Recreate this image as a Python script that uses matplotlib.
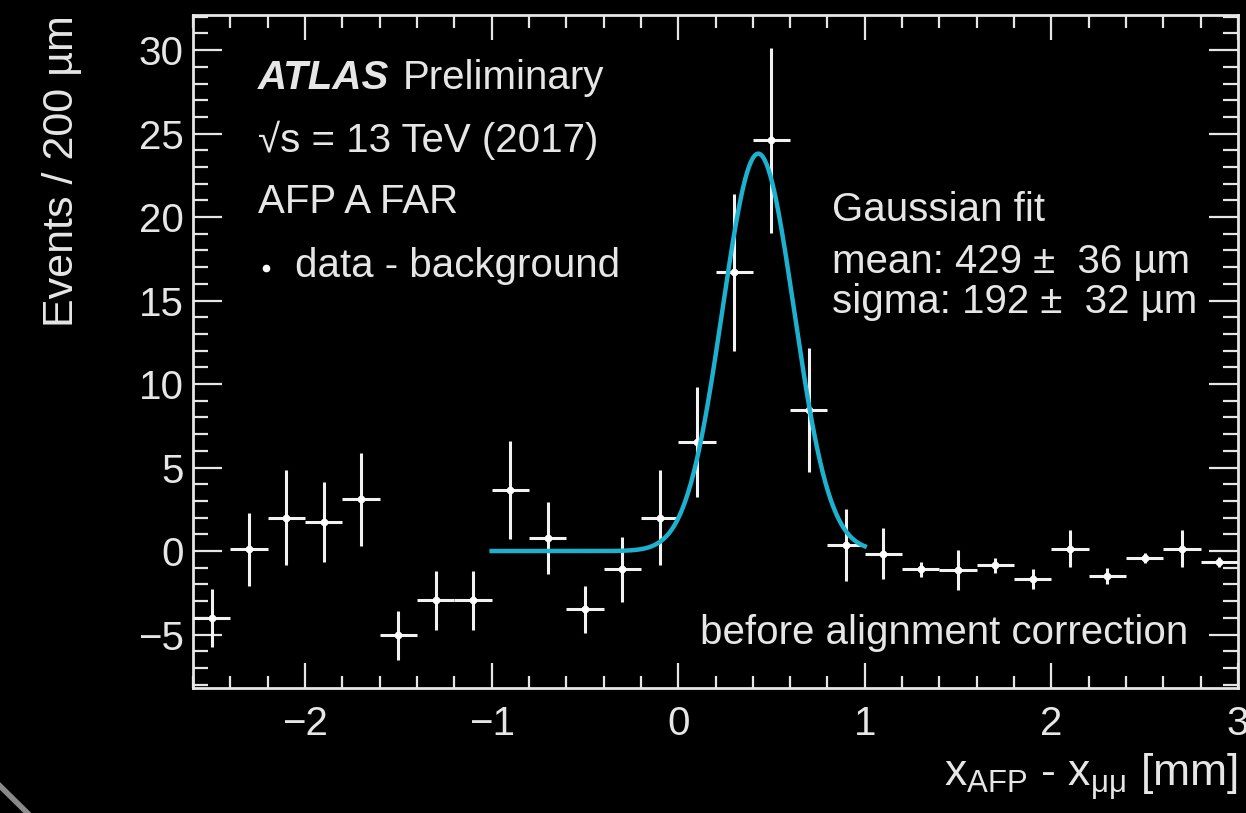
import numpy as np
import matplotlib
matplotlib.use("Agg")
import matplotlib.pyplot as plt
from matplotlib.ticker import MultipleLocator, FixedLocator
from matplotlib.lines import Line2D

# ---- data ----
bin_centers = [-2.5, -2.3, -2.1, -1.9, -1.7, -1.5, -1.3, -1.1, -0.9, -0.7,
               -0.5, -0.3, -0.1, 0.1, 0.3, 0.5, 0.7, 0.9, 1.1, 1.3,
               1.5, 1.7, 1.9, 2.1, 2.3, 2.5, 2.7, 2.9]
events = [-4.0, 0.1, 2.0, 1.75, 3.1, -5.05, -2.95, -2.95, 3.65, 0.8,
          -3.5, -1.1, 2.0, 6.55, 16.7, 24.6, 8.45, 0.35, -0.15, -1.1,
          -1.15, -0.85, -1.7, 0.15, -1.5, -0.4, 0.15, -0.65]
errors = [1.75, 2.2, 2.85, 2.4, 2.8, 1.45, 1.75, 1.75, 2.95, 2.15,
          1.4, 1.95, 2.85, 3.3, 4.7, 5.55, 3.7, 2.15, 1.55, 0.45,
          1.2, 0.45, 0.6, 1.1, 0.5, 0.3, 1.1, 0.3]
bin_half_width = 0.1

fit_mean = 0.429      # mm
fit_sigma = 0.192     # mm
fit_amplitude = 23.8
fit_range = (-1.0, 1.0)

x_ticks = [-2, -1, 0, 1, 2, 3]
y_ticks = [-5, 0, 5, 10, 15, 20, 25, 30]

# ---- style ----
plt.rcParams['font.family'] = ['Liberation Sans', 'DejaVu Sans']
plt.rcParams['mathtext.fontset'] = 'custom'
plt.rcParams['mathtext.rm'] = 'Liberation Sans'
plt.rcParams['mathtext.it'] = 'Liberation Sans:italic'
plt.rcParams['mathtext.bf'] = 'Liberation Sans:bold'

fg = '#e6e6e6'
fit_color = '#1cb1cf'
fs = 29

fig = plt.figure(figsize=(12.46, 8.13), dpi=100, facecolor='black')
ax = fig.add_axes([0.155, 0.1538, 0.8385, 0.8277], facecolor='black')

# data points with error bars
ax.errorbar(bin_centers, events, yerr=errors, xerr=bin_half_width,
            fmt='o', color='white', ecolor='#f2f2f2', elinewidth=2.2,
            markersize=4.5, capsize=0, zorder=4)

# Gaussian fit
xf = np.linspace(fit_range[0], fit_range[1], 400)
yf = fit_amplitude * np.exp(-0.5 * ((xf - fit_mean) / fit_sigma) ** 2)
ax.plot(xf, yf, color=fit_color, lw=3.2, zorder=5)

ax.set_xlim(-2.6, 3.0)
ax.set_ylim(-8.2, 32.1)
ax.xaxis.set_major_locator(FixedLocator(x_ticks))
ax.xaxis.set_minor_locator(MultipleLocator(0.2))
ax.yaxis.set_major_locator(FixedLocator(y_ticks))
ax.yaxis.set_minor_locator(MultipleLocator(1))

for s in ax.spines.values():
    s.set_color(fg)
    s.set_linewidth(2)

ax.tick_params(axis='both', which='both', direction='in', colors=fg,
               top=True, right=True, width=1.6)
ax.tick_params(axis='x', which='major', length=18, pad=12, labelsize=fs)
ax.tick_params(axis='x', which='minor', length=9)
ax.tick_params(axis='y', which='major', length=21, pad=7, labelsize=fs)
ax.tick_params(axis='y', which='minor', length=11)
for lab in ax.get_xticklabels() + ax.get_yticklabels():
    lab.set_color(fg)

# axis titles
fig.text(0.05, 0.982, 'Events / 200 µm', rotation=90, ha='center', va='top',
         color=fg, fontsize=31)
fig.text(0.993, 0.012, r'x$_{\mathrm{AFP}}$ - x$_{\mathrm{μμ}}$ [mm]',
         ha='right', va='bottom', color=fg, fontsize=32)

# labels inside plot
tx = 258 / 1246
fig.text(tx, 1 - 78 / 813, 'ATLAS', fontsize=fs, fontweight='bold',
         fontstyle='italic', color=fg, va='center', ha='left')
fig.text(403 / 1246, 1 - 78 / 813, 'Preliminary', fontsize=fs, color=fg,
         va='center', ha='left')
fig.text(tx, 1 - 140 / 813, '√s = 13 TeV (2017)', fontsize=fs, color=fg,
         va='center', ha='left')
fig.text(tx, 1 - 202 / 813, 'AFP A FAR', fontsize=fs, color=fg,
         va='center', ha='left')
fig.add_artist(Line2D([266 / 1246], [1 - 268 / 813], marker='o',
                      markersize=4.5, color='white', transform=fig.transFigure))
fig.text(295 / 1246, 1 - 266 / 813, 'data - background', fontsize=fs,
         color=fg, va='center', ha='left')

fig.text(832 / 1246, 1 - 210 / 813, 'Gaussian fit', fontsize=fs, color=fg,
         va='center', ha='left')
fig.text(832 / 1246, 1 - 262 / 813, 'mean: 429 ±  36 µm', fontsize=fs,
         color=fg, va='center', ha='left')
fig.text(832 / 1246, 1 - 302 / 813, 'sigma: 192 ±  32 µm', fontsize=fs,
         color=fg, va='center', ha='left')

fig.text(1188 / 1246, 1 - 633 / 813, 'before alignment correction',
         fontsize=fs, color=fg, va='center', ha='right')

# slide artefact in bottom-left corner
fig.add_artist(Line2D([0.0, 0.022], [1 - 786 / 813, 0.0], color='#8a8a8a',
                      lw=4, transform=fig.transFigure))

fig.savefig('out.png', dpi=100, facecolor='black')
